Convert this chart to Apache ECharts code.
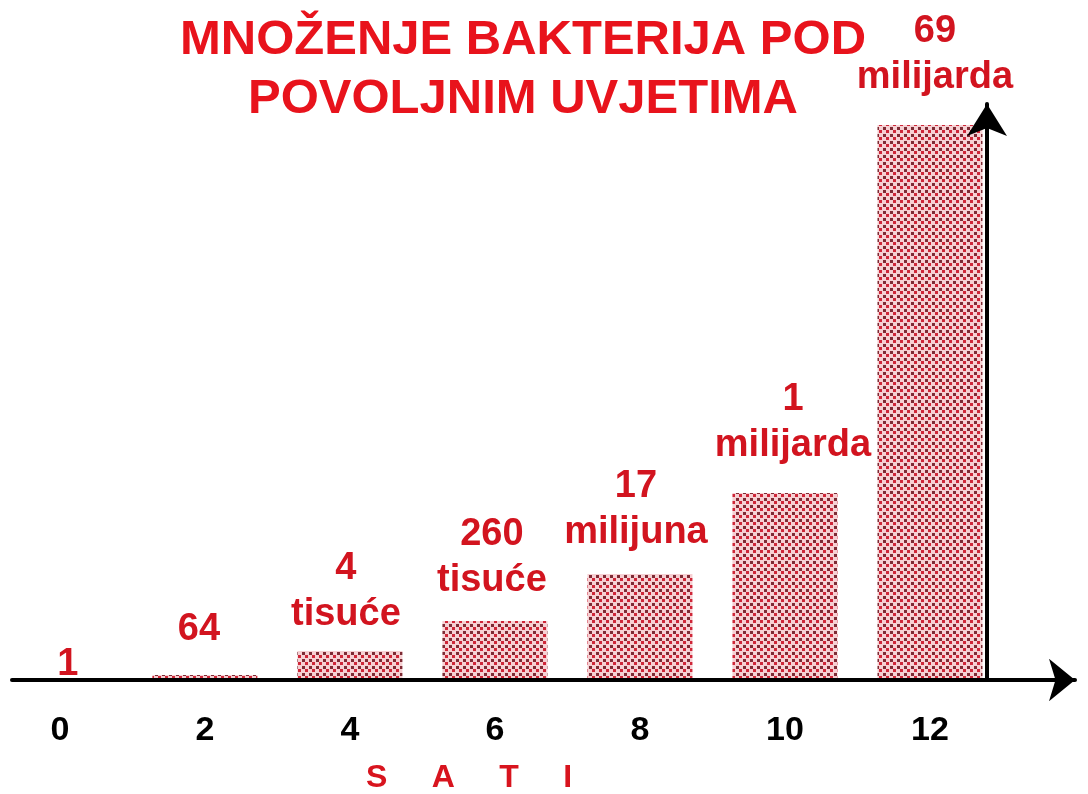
<!DOCTYPE html>
<html>
<head>
<meta charset="utf-8">
<script src="https://cdn.jsdelivr.net/npm/echarts@6/dist/echarts.min.js"></script>
<style>
  html, body { margin: 0; padding: 0; background: #ffffff; }
  #chart { width: 1088px; height: 794px; }
</style>
</head>
<body>
<div id="chart"></div>
<script>
// ---- data ----
const hours = [0, 2, 4, 6, 8, 10, 12];                 // SATI (hours)
const barHeights = [0, 5, 29, 59, 106, 187, 555];      // drawn bar heights (illustrative scale)
const countLabels = ['1', '64', '4\ntisuće', '260\ntisuće', '17\nmilijuna', '1\nmilijarda', '69\nmilijarda'];
const tickLabels = ['0', '2', '4', '6', '8', '10', '12'];
const titleText = 'MNOŽENJE BAKTERIJA POD\nPOVOLJNIM UVJETIMA';
const axisName = 'S     A     T     I';

// ---- style helpers ----
const labelGap = [-8, 22, 13, 17, 18, 24, 24];
const labelShift = [8, -6, -4, -3, -4, 8, 5];

function makePattern() {
  const c = document.createElement('canvas');
  c.width = 7; c.height = 7;
  const ctx = c.getContext('2d');
  ctx.fillStyle = '#f6d0d3';
  ctx.fillRect(0, 0, 7, 7);
  ctx.fillStyle = '#7e2a34';
  ctx.fillRect(1, 1, 3, 3);
  ctx.fillStyle = '#cf2638';
  ctx.fillRect(4, 4, 3, 3);
  return c;
}
const pattern = { image: makePattern(), repeat: 'repeat' };

const chart = echarts.init(document.getElementById('chart'), null, { renderer: 'canvas' });

const option = {
  backgroundColor: '#ffffff',
  animation: false,
  title: [
    {
      text: titleText,
      left: 518,
      top: 6,
      textAlign: 'center',
      textStyle: {
        fontFamily: 'Liberation Sans, Arial, sans-serif',
        fontSize: 49,
        fontWeight: 'bold',
        color: '#e8131c',
        lineHeight: 59
      }
    },
    {
      text: axisName,
      left: 464,
      top: 757,
      textAlign: 'center',
      textStyle: {
        fontFamily: 'Liberation Sans, Arial, sans-serif',
        fontSize: 32,
        fontWeight: 'bold',
        color: '#d8141e'
      }
    }
  ],
  grid: { left: 12, right: 13, top: 104, bottom: 114, containLabel: false },
  xAxis: {
    type: 'value',
    min: -0.66,
    max: 14.0,
    z: 5,
    splitLine: { show: false },
    axisTick: { show: false },
    axisLine: {
      show: true,
      symbol: ['none', 'arrow'],
      symbolSize: [32, 26],
      lineStyle: { color: '#000000', width: 4 }
    },
    axisLabel: {
      customValues: hours,
      formatter: function (v) { return tickLabels[hours.indexOf(v)] || ''; },
      margin: 34,
      fontFamily: 'Liberation Sans, Arial, sans-serif',
      fontSize: 34,
      fontWeight: 'bold',
      color: '#000000'
    }
  },
  yAxis: {
    type: 'value',
    min: 0,
    max: 576,
    position: 'right',
    offset: -88,
    z: 5,
    splitLine: { show: false },
    axisTick: { show: false },
    axisLabel: { show: false },
    axisLine: {
      show: true,
      onZero: false,
      symbol: ['none', 'arrow'],
      symbolSize: [30, 32],
      lineStyle: { color: '#000000', width: 4 }
    }
  },
  series: [
    {
      type: 'bar',
      barWidth: 105,
      data: hours.map(function (h, i) {
        return {
          value: [h, barHeights[i]],
          label: { distance: labelGap[i], offset: [labelShift[i], 0] }
        };
      }),
      itemStyle: { color: pattern },
      label: {
        show: true,
        position: 'top',
        formatter: function (p) { return countLabels[p.dataIndex]; },
        fontFamily: 'Liberation Sans, Arial, sans-serif',
        fontSize: 38,
        fontWeight: 'bold',
        lineHeight: 46,
        color: '#d2141f'
      },
      z: 1
    }
  ]
};
chart.setOption(option);
</script>
</body>
</html>
